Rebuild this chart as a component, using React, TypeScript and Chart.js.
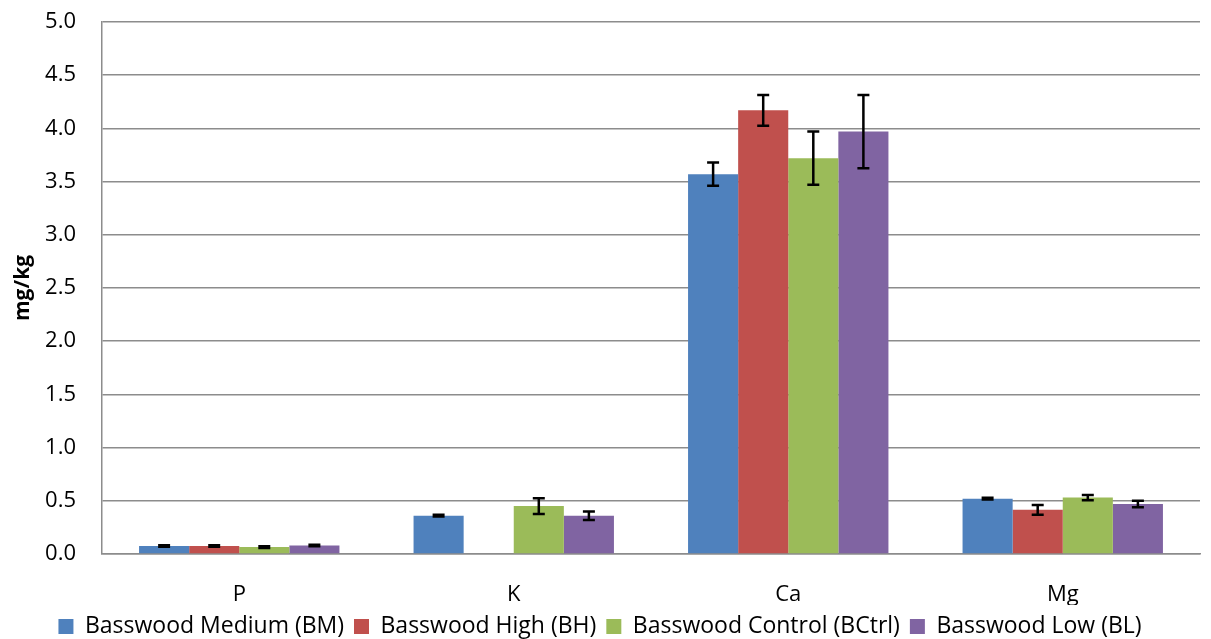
import React, { useEffect, useRef } from "react";
import { Chart, registerables } from "chart.js";

Chart.register(...registerables);

const categories = ["P", "K", "Ca", "Mg"];
const seriesNames = [
  "Basswood Medium (BM)",
  "Basswood High (BH)",
  "Basswood Control (BCtrl)",
  "Basswood Low (BL)",
];
const seriesColors = ["#4F81BD", "#C0504D", "#9BBB59", "#8064A2"];

const bmValues = [0.075, 0.36, 3.57, 0.52];
const bhValues: (number | null)[] = [0.075, null, 4.17, 0.415];
const bctrlValues = [0.065, 0.45, 3.72, 0.53];
const blValues = [0.08, 0.36, 3.97, 0.47];

const bmErrors = [0.008, 0.008, 0.11, 0.008];
const bhErrors: (number | null)[] = [0.008, null, 0.145, 0.045];
const bctrlErrors = [0.008, 0.075, 0.25, 0.025];
const blErrors = [0.008, 0.04, 0.345, 0.03];

const yTicks = [0, 0.5, 1, 1.5, 2, 2.5, 3, 3.5, 4, 4.5, 5];

const allValues = [bmValues, bhValues, bctrlValues, blValues];
const allErrors = [bmErrors, bhErrors, bctrlErrors, blErrors];

const FONT = "'Open Sans', 'DejaVu Sans', sans-serif";

const errorBarPlugin = {
  id: "errorBars",
  afterDatasetsDraw(chart: any) {
    const ctx = chart.ctx;
    const yScale = chart.scales.y;
    ctx.save();
    ctx.strokeStyle = "#000";
    ctx.lineWidth = 2.5;
    chart.data.datasets.forEach((ds: any, di: number) => {
      const meta = chart.getDatasetMeta(di);
      const errs = allErrors[di];
      meta.data.forEach((bar: any, i: number) => {
        const v = ds.data[i];
        const e = errs[i];
        if (v == null || e == null) return;
        const x = bar.x;
        const yT = yScale.getPixelForValue(v + e);
        const yB = yScale.getPixelForValue(v - e);
        const cap = 6;
        ctx.beginPath();
        ctx.moveTo(x, yT);
        ctx.lineTo(x, yB);
        ctx.moveTo(x - cap, yT);
        ctx.lineTo(x + cap, yT);
        ctx.moveTo(x - cap, yB);
        ctx.lineTo(x + cap, yB);
        ctx.stroke();
      });
    });
    ctx.restore();
  },
};

export default function App() {
  const ref = useRef<HTMLCanvasElement | null>(null);

  useEffect(() => {
    document.body.style.margin = "0";
    const canvas = ref.current;
    if (!canvas) return;
    const chart = new Chart(canvas, {
      type: "bar",
      data: {
        labels: categories,
        datasets: allValues.map((vals, i) => ({
          label: seriesNames[i],
          data: vals as any,
          backgroundColor: seriesColors[i],
          borderWidth: 0,
          categoryPercentage: 0.73,
          barPercentage: 1.0,
        })),
      },
      options: {
        animation: false,
        responsive: true,
        maintainAspectRatio: false,
        layout: { padding: { top: 22, right: 11, left: 0, bottom: -9 } },
        plugins: {
          tooltip: { enabled: false },
          legend: {
            position: "bottom",
            labels: {
              font: { family: FONT, size: 23 },
              color: "#000",
              boxWidth: 15,
              boxHeight: 15,
              padding: 10,
            },
          },
        },
        scales: {
          x: {
            grid: { display: false, drawTicks: false },
            border: { display: true, color: "#8c8c8c", width: 1.5 },
            ticks: {
              font: { family: FONT, size: 22 },
              color: "#000",
              padding: 28,
            },
            afterFit(scale: any) {
              scale.height = 51;
            },
          },
          y: {
            min: 0,
            max: 5,
            afterBuildTicks(scale: any) {
              scale.ticks = yTicks.map((v) => ({ value: v }));
            },
            grid: { color: "#8c8c8c", lineWidth: 1.5, drawTicks: false },
            border: { display: true, color: "#8c8c8c", width: 1.5 },
            ticks: {
              font: { family: FONT, size: 22 },
              color: "#000",
              padding: 26,
              callback: (v: any) => Number(v).toFixed(1),
            },
            title: {
              display: true,
              text: "mg/kg",
              font: { family: FONT, size: 21, weight: "bold" },
              color: "#000",
              padding: { top: 10, bottom: 0 },
            },
            afterFit(scale: any) {
              scale.width = 102;
              scale.paddingTop = 0;
              scale.paddingBottom = 0;
            },
          },
        },
      },
      plugins: [errorBarPlugin],
    });
    return () => chart.destroy();
  }, []);

  return (
    <div style={{ width: 1211, height: 639, position: "relative" }}>
      <canvas ref={ref} />
    </div>
  );
}
